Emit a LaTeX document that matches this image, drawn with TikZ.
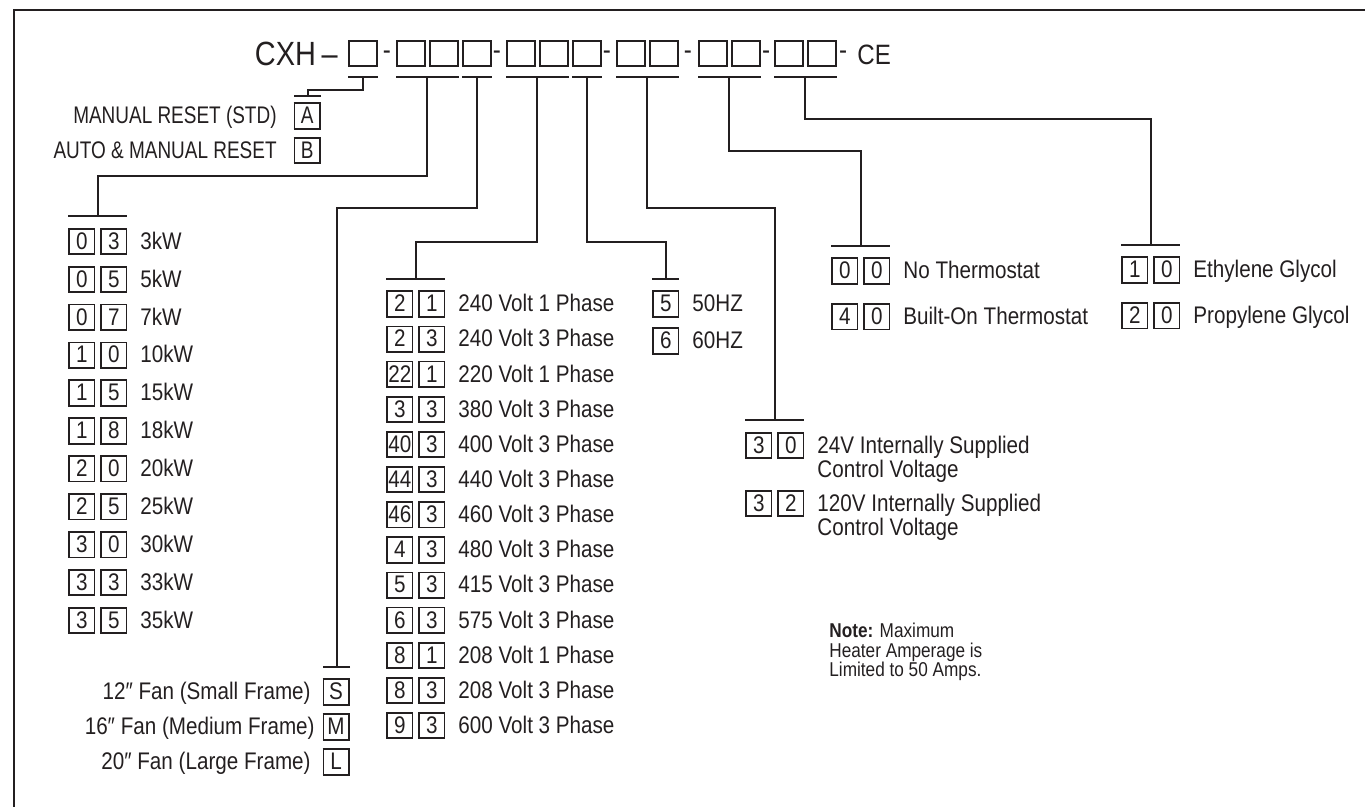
\documentclass[tikz,border=0pt]{standalone}
\usepackage{fontspec}
\setmainfont{Liberation Sans}[FakeStretch=0.86]
\newfontfamily\capsfont{Liberation Sans}[FakeStretch=0.79]
\usetikzlibrary{positioning}
\definecolor{ink}{RGB}{35,31,32}
\newcommand{\dg}[1]{{\fboxsep=0pt\fboxrule=0.9pt\fbox{\makebox[11.7pt]{\rule[-2pt]{0pt}{11.8pt}#1}}}}
\newcommand{\pair}[2]{\dg{#1}\hspace{2.5pt}\dg{#2}\hspace{6.5pt}}
\newcommand{\one}[1]{\dg{#1}\hspace{6.5pt}}

\begin{document}
\begin{tikzpicture}[
  x=0.5pt, y=-0.5pt,
  every node/.style={text=ink},
  hcell/.style={draw=ink, line width=0.95pt, minimum width=14pt,
                minimum height=12.5pt, inner sep=0pt},
  hyph/.style={inner sep=0pt, font=\fontsize{14}{16}\selectfont},
  opt/.style={inner sep=0pt, font=\fontsize{12}{10}\selectfont},
  wire/.style={draw=ink, line width=1pt},
  frame/.style={draw=ink, line width=0.8pt}
]
\useasboundingbox (0,0) rectangle (1365,807);
\draw[frame] (14,807) -- (14,10) -- (1365,10);

% model code
\node[anchor=east, inner sep=0pt, font=\fontsize{16.8}{18}\selectfont] (cxh) at (338,53.5) {CXH\,--};
\node[hcell] (h1) at (363,53.5) {};
\node[hyph] (d1) at (387,55) {-};
\node[hcell] (h2a) at (411,53.5) {};
\node[hcell, right=1.5pt of h2a] (h2b) {};
\node[hcell, right=1.5pt of h2b] (h2c) {};
\node[hyph] (d2) at (497,55) {-};
\node[hcell] (h3a) at (521,53.5) {};
\node[hcell, right=1.5pt of h3a] (h3b) {};
\node[hcell, right=1.5pt of h3b] (h3c) {};
\node[hyph] (d3) at (607,55) {-};
\node[hcell] (h4a) at (631,53.5) {};
\node[hcell, right=1.5pt of h4a] (h4b) {};
\node[hyph] (d4) at (688,55) {-};
\node[hcell] (h5a) at (713,53.5) {};
\node[hcell, right=1.5pt of h5a] (h5b) {};
\node[hyph] (d5) at (766,55) {-};
\node[hcell] (h6a) at (789,53.5) {};
\node[hcell, right=1.5pt of h6a] (h6b) {};
\node[hyph] (d6) at (843,55) {-};
\node[anchor=west, inner sep=0pt, font=\fontsize{14}{16}\selectfont] (ce) at (857,55) {CE};

% bars under the code
\draw[wire] ([yshift=-5.25pt]h1.south west) -- ([yshift=-5.25pt]h1.south east);
\draw[wire] ([yshift=-5.25pt]h2a.south west) -- ([yshift=-5.25pt]h2b.south east);
\draw[wire] ([yshift=-5.25pt]h2c.south west) -- ([yshift=-5.25pt]h2c.south east);
\draw[wire] ([yshift=-5.25pt]h3a.south west) -- ([yshift=-5.25pt]h3b.south east);
\draw[wire] ([yshift=-5.25pt]h3c.south west) -- ([yshift=-5.25pt]h3c.south east);
\draw[wire] ([yshift=-5.25pt]h4a.south west) -- ([yshift=-5.25pt]h4b.south east);
\draw[wire] ([yshift=-5.25pt]h5a.south west) -- ([yshift=-5.25pt]h5b.south east);
\draw[wire] ([yshift=-5.25pt]h6a.south west) -- ([yshift=-5.25pt]h6b.south east);
\coordinate (t1) at ([yshift=-5.25pt]h1.south);
\coordinate (t2) at ([xshift=.75pt,yshift=-5.25pt]h2a.south east);
\coordinate (t3) at ([yshift=-5.25pt]h2c.south);
\coordinate (t4) at ([xshift=.75pt,yshift=-5.25pt]h3a.south east);
\coordinate (t5) at ([yshift=-5.25pt]h3c.south);
\coordinate (t6) at ([xshift=.75pt,yshift=-5.25pt]h4a.south east);
\coordinate (t7) at ([xshift=.75pt,yshift=-5.25pt]h5a.south east);
\coordinate (t8) at ([xshift=.75pt,yshift=-5.25pt]h6a.south east);

% reset
\node[opt, anchor=north east] (rstA) at (321,102) {\capsfont MANUAL RESET (STD)\hspace{8.5pt}\dg{A}};
\node[opt, below left=3.3pt and 0pt of rstA.south east] (rstB) {\capsfont AUTO \& MANUAL RESET\hspace{8.5pt}\dg{B}};

% kW
\node[opt, anchor=north west] (kw03) at (68,227.5) {\pair{0}{3}3kW};
\node[opt, below right=4.95pt and 0pt of kw03.south west] (kw05) {\pair{0}{5}5kW};
\node[opt, below right=4.95pt and 0pt of kw05.south west] (kw07) {\pair{0}{7}7kW};
\node[opt, below right=4.95pt and 0pt of kw07.south west] (kw10) {\pair{1}{0}10kW};
\node[opt, below right=4.95pt and 0pt of kw10.south west] (kw15) {\pair{1}{5}15kW};
\node[opt, below right=4.95pt and 0pt of kw15.south west] (kw18) {\pair{1}{8}18kW};
\node[opt, below right=4.95pt and 0pt of kw18.south west] (kw20) {\pair{2}{0}20kW};
\node[opt, below right=4.95pt and 0pt of kw20.south west] (kw25) {\pair{2}{5}25kW};
\node[opt, below right=4.95pt and 0pt of kw25.south west] (kw30) {\pair{3}{0}30kW};
\node[opt, below right=4.95pt and 0pt of kw30.south west] (kw33) {\pair{3}{3}33kW};
\node[opt, below right=4.95pt and 0pt of kw33.south west] (kw35) {\pair{3}{5}35kW};

% fan
\node[opt, anchor=north east] (fanS) at (350,678) {12″ Fan (Small Frame)\hspace{6pt}\dg{S}};
\node[opt, below left=3.5pt and 0pt of fanS.south east] (fanM) {16″ Fan (Medium Frame)\hspace{4pt}\dg{M}};
\node[opt, below left=3.5pt and 0pt of fanM.south east] (fanL) {20″ Fan (Large Frame)\hspace{6pt}\dg{L}};

% voltage
\node[opt, anchor=north west] (v21) at (386,290) {\pair{2}{1}240 Volt 1 Phase};
\node[opt, below right=3.57pt and 0pt of v21.south west] (v23) {\pair{2}{3}240 Volt 3 Phase};
\node[opt, below right=3.57pt and 0pt of v23.south west] (v221) {\pair{22}{1}220 Volt 1 Phase};
\node[opt, below right=3.57pt and 0pt of v221.south west] (v33) {\pair{3}{3}380 Volt 3 Phase};
\node[opt, below right=3.57pt and 0pt of v33.south west] (v403) {\pair{40}{3}400 Volt 3 Phase};
\node[opt, below right=3.57pt and 0pt of v403.south west] (v443) {\pair{44}{3}440 Volt 3 Phase};
\node[opt, below right=3.57pt and 0pt of v443.south west] (v463) {\pair{46}{3}460 Volt 3 Phase};
\node[opt, below right=3.57pt and 0pt of v463.south west] (v43) {\pair{4}{3}480 Volt 3 Phase};
\node[opt, below right=3.57pt and 0pt of v43.south west] (v53) {\pair{5}{3}415 Volt 3 Phase};
\node[opt, below right=3.57pt and 0pt of v53.south west] (v63) {\pair{6}{3}575 Volt 3 Phase};
\node[opt, below right=3.57pt and 0pt of v63.south west] (v81) {\pair{8}{1}208 Volt 1 Phase};
\node[opt, below right=3.57pt and 0pt of v81.south west] (v83) {\pair{8}{3}208 Volt 3 Phase};
\node[opt, below right=3.57pt and 0pt of v83.south west] (v93) {\pair{9}{3}600 Volt 3 Phase};

% frequency
\node[opt, anchor=north west] (hz5) at (652,290) {\one{5}50HZ};
\node[opt, below right=4.5pt and 0pt of hz5.south west] (hz6) {\one{6}60HZ};

% control voltage
\node[opt, anchor=north west] (ctl30) at (745,431.5)
  {\pair{3}{0}\parbox[t]{150pt}{\baselineskip=10pt 24V Internally Supplied\\Control Voltage}};
\node[opt, below right=3.2pt and 0pt of ctl30.south west] (ctl32)
  {\pair{3}{2}\parbox[t]{150pt}{\baselineskip=10pt 120V Internally Supplied\\Control Voltage}};

% thermostat
\node[opt, anchor=north west] (th00) at (831,257) {\pair{0}{0}No Thermostat};
\node[opt, below right=8.9pt and 0pt of th00.south west] (th40) {\pair{4}{0}Built-On Thermostat};

% glycol
\node[opt, anchor=north west] (gl10) at (1121,256) {\pair{1}{0}Ethylene Glycol};
\node[opt, below right=8.9pt and 0pt of gl10.south west] (gl20) {\pair{2}{0}Propylene Glycol};

% note
\node[opt, anchor=north west, align=left, font=\fontsize{10}{9.75}\selectfont] (note) at (829,623)
  {\textbf{Note:} Maximum\\Heater Amperage is\\Limited to 50 Amps.};

% bars over the options
\draw[wire] ([yshift=2.75pt]rstA.north east) -- ++(-27,0);
\draw[wire] ([yshift=5.5pt]kw03.north west) -- ++(59,0);
\draw[wire] ([yshift=5.5pt]fanS.north east) -- ++(-27,0);
\draw[wire] ([yshift=5.5pt]v21.north west) -- ++(59,0);
\draw[wire] ([yshift=5.5pt]hz5.north west) -- ++(27,0);
\draw[wire] ([yshift=5.5pt]ctl30.north west) -- ++(59,0);
\draw[wire] ([yshift=5.5pt]th00.north west) -- ++(59,0);
\draw[wire] ([yshift=5.5pt]gl10.north west) -- ++(59,0);
\coordinate (eA) at ([xshift=-6.75pt,yshift=2.75pt]rstA.north east);
\coordinate (ekw) at ([xshift=14.75pt,yshift=5.5pt]kw03.north west);
\coordinate (efan) at ([xshift=-6.75pt,yshift=5.5pt]fanS.north east);
\coordinate (evolt) at ([xshift=14.75pt,yshift=5.5pt]v21.north west);
\coordinate (ehz) at ([xshift=6.75pt,yshift=5.5pt]hz5.north west);
\coordinate (ectl) at ([xshift=14.75pt,yshift=5.5pt]ctl30.north west);
\coordinate (eth) at ([xshift=14.75pt,yshift=5.5pt]th00.north west);
\coordinate (egl) at ([xshift=14.75pt,yshift=5.5pt]gl10.north west);

% connectors
\draw[wire] (t1) -- ++(0,13) -| (eA);
\draw[wire] (t2) -- ++(0,98.5) -| (ekw);
\draw[wire] (t3) -- ++(0,131) -| (efan);
\draw[wire] (t4) -- ++(0,164.5) -| (evolt);
\draw[wire] (t5) -- ++(0,164.5) -| (ehz);
\draw[wire] (t6) -- ++(0,131) -| (ectl);
\draw[wire] (t7) -- ++(0,73.5) -| (eth);
\draw[wire] (t8) -- ++(0,41.5) -| (egl);
\end{tikzpicture}
\end{document}
